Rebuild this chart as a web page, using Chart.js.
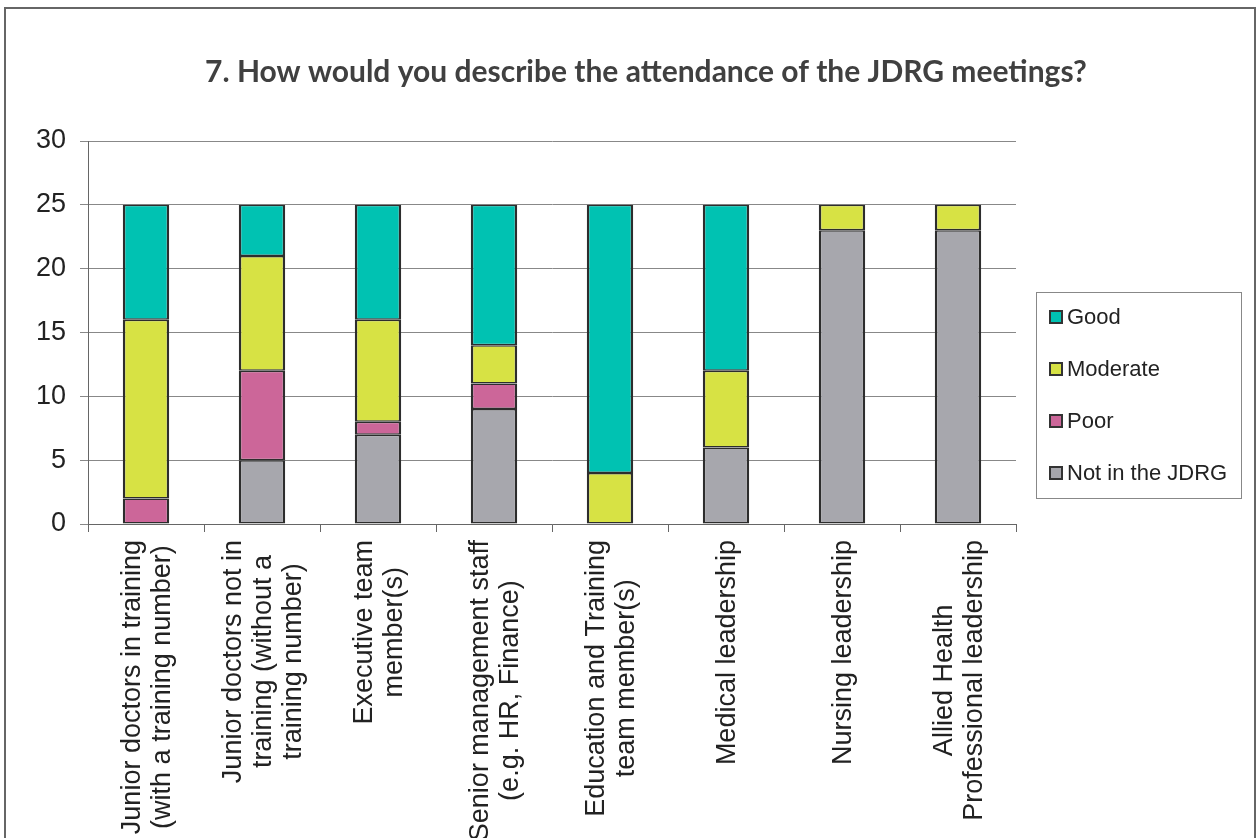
<!DOCTYPE html>
<html>
<head>
<meta charset="utf-8">
<script src="https://cdn.jsdelivr.net/npm/chart.js@4.4.0/dist/chart.umd.min.js"></script>
<style>
    html, body { margin: 0; padding: 0; background: #fff; }
</style>
</head>
<body>
<canvas id="graficoJdrg" width="1260" height="838"></canvas>
<script>
const titulo = '7. How would you describe the attendance of the JDRG meetings?'
const categorias = [
    ['Junior doctors in training', '(with a training number)'],
    ['Junior doctors not in', 'training (without a', 'training number)'],
    ['Executive team', 'member(s)'],
    ['Senior management staff', '(e.g. HR, Finance)'],
    ['Education and Training', 'team member(s)'],
    ['Medical leadership'],
    ['Nursing leadership'],
    ['Allied Health', 'Professional leadership']
]
const naoNoJdrg = [0, 5, 7, 9, 0, 6, 23, 23]
const fraco = [2, 7, 1, 2, 0, 0, 0, 0]
const moderado = [14, 9, 8, 3, 4, 6, 2, 2]
const bom = [9, 4, 9, 11, 21, 13, 0, 0]
const ticksY = [0, 5, 10, 15, 20, 25, 30]

const fonteArial = "'Liberation Sans', Arial, sans-serif"

// moldura, titulo, rotulos do eixo x e legenda desenhados a mao
const extras = {
    id: 'extras',
    beforeDraw(chart) {
        const ctx = chart.ctx
        ctx.save()
        ctx.fillStyle = '#fff'
        ctx.fillRect(0, 0, chart.width, chart.height)
        ctx.restore()
    },
    afterDraw(chart) {
        const ctx = chart.ctx
        const x = chart.scales.x
        ctx.save()

        // moldura
        ctx.strokeStyle = '#666'
        ctx.lineWidth = 2
        ctx.strokeRect(5, 8, 1250, 860)

        // titulo
        ctx.fillStyle = '#404040'
        ctx.font = "bold 30px Lato, 'Open Sans', sans-serif"
        ctx.textAlign = 'center'
        ctx.textBaseline = 'middle'
        ctx.fillText(titulo, 646, 72)

        // rotulos das categorias
        ctx.font = '27px ' + fonteArial
        ctx.fillStyle = '#222'
        categorias.forEach((linhas, i) => {
            const cx = x.getPixelForValue(i) + 2
            const maior = Math.max(...linhas.map(l => ctx.measureText(l).width))
            ctx.save()
            ctx.translate(cx, x.bottom + 6 + maior / 2)
            ctx.rotate(-Math.PI / 2)
            linhas.forEach((l, j) => {
                ctx.fillText(l, 0, (j - (linhas.length - 1) / 2) * 30)
            })
            ctx.restore()
        })

        // legenda
        ctx.strokeStyle = '#888'
        ctx.lineWidth = 1
        ctx.strokeRect(1036.5, 292.5, 205, 206)
        ctx.font = '22px ' + fonteArial
        ctx.textAlign = 'left'
        const itens = chart.data.datasets.slice().reverse()
        itens.forEach((ds, k) => {
            const y = 317 + k * 52
            ctx.fillStyle = ds.backgroundColor
            ctx.fillRect(1050, y - 6, 12, 12)
            ctx.strokeStyle = '#333'
            ctx.lineWidth = 2
            ctx.strokeRect(1050, y - 6, 12, 12)
            ctx.fillStyle = '#222'
            ctx.fillText(ds.label, 1067, y + 1)
        })
        ctx.restore()
    }
}

function serie(rotulo, dados, cor) {
    return {
        label: rotulo,
        data: dados,
        backgroundColor: cor,
        borderColor: '#2d2d2d',
        borderWidth: { left: 2.5, right: 2.5, top: 1.5, bottom: 1.5 },
        borderSkipped: false,
        inflateAmount: 0,
        categoryPercentage: 1,
        barPercentage: 0.4
    }
}

const graficoJdrg = new Chart(document.getElementById('graficoJdrg'), {
    type: 'bar',
    data: {
        labels: categorias.map(c => c.join(' ')),
        datasets: [
            serie('Not in the JDRG', naoNoJdrg, '#a7a7ad'),
            serie('Poor', fraco, '#cc6699'),
            serie('Moderate', moderado, '#d7e244'),
            serie('Good', bom, '#00c2b2')
        ]
    },
    options: {
        responsive: false,
        animation: false,
        devicePixelRatio: 1,
        layout: { padding: { top: 141, left: 0, right: 244, bottom: 304 } },
        plugins: {
            legend: { display: false },
            title: { display: false },
            tooltip: { enabled: false }
        },
        scales: {
            x: {
                stacked: true,
                ticks: { display: false },
                grid: { offset: true, drawOnChartArea: false, drawTicks: true, tickLength: 8, color: '#666', lineWidth: 1 },
                border: { color: '#666', width: 1 },
                afterFit(s) { s.height = 10 }
            },
            y: {
                stacked: true,
                min: 0,
                max: 30,
                afterBuildTicks(s) { s.ticks = ticksY.map(v => ({ value: v })) },
                ticks: { font: { family: fonteArial, size: 27 }, color: '#222', padding: 14 },
                grid: { color: '#888', lineWidth: 1, tickLength: 8 },
                border: { color: '#666', width: 1 },
                afterFit(s) { s.width = 88 }
            }
        }
    },
    plugins: [extras]
})
</script>
</body>
</html>
